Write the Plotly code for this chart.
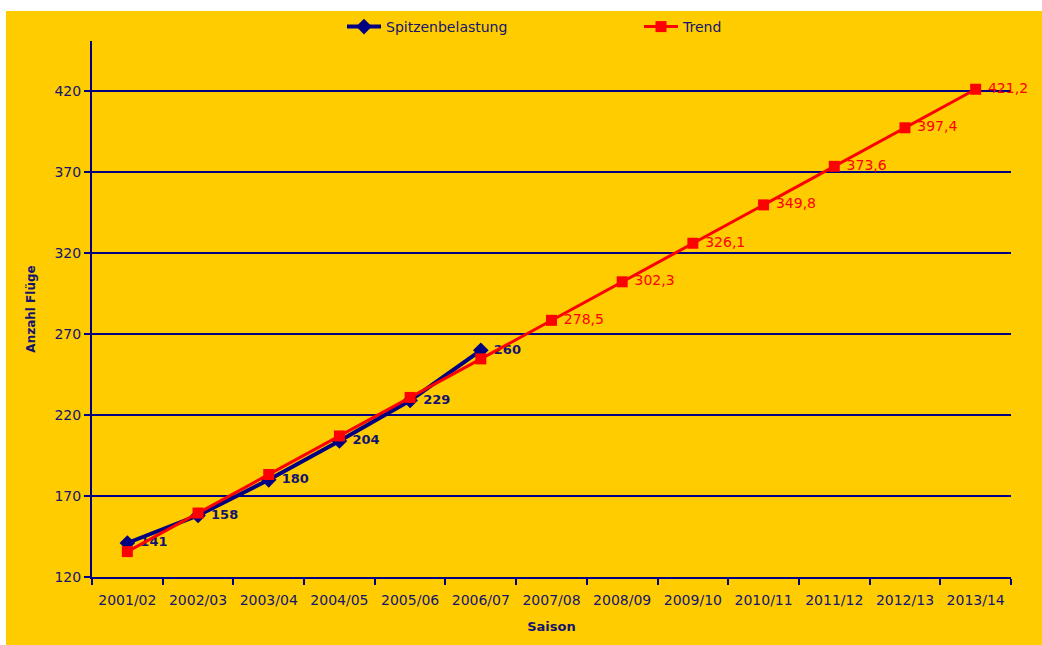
import plotly.graph_objects as go

seasons = ["2001/02", "2002/03", "2003/04", "2004/05", "2005/06", "2006/07", "2007/08",
           "2008/09", "2009/10", "2010/11", "2011/12", "2012/13", "2013/14"]
spitzen_seasons = seasons[:6]
spitzen_values = [141, 158, 180, 204, 229, 260]
trend_values = [135.7, 159.5, 183.3, 207.1, 230.9, 254.7, 278.5,
                302.3, 326.1, 349.8, 373.6, 397.4, 421.2]
trend_labels = ["", "", "", "", "", "", "278,5", "302,3", "326,1", "349,8", "373,6", "397,4", "421,2"]
y_ticks = [120, 170, 220, 270, 320, 370, 420]

YELLOW = "#FFCC00"
NAVY = "#000080"
TXT = "#14146e"
RED = "#FF0000"
FONT = "DejaVu Sans"

W, H = 1042, 645
ML, MR, MT, MB = 92, 31, 40, 68
PW, PH = W - ML - MR, H - MT - MB

fig = go.Figure()
fig.add_trace(go.Scatter(
    x=spitzen_seasons, y=spitzen_values, name="Spitzenbelastung",
    mode="lines+markers+text",
    line=dict(color=NAVY, width=4),
    marker=dict(symbol="diamond", size=12, color=NAVY),
    text=[str(v) for v in spitzen_values], texttemplate=" %{text}", textposition="middle right",
    textfont=dict(family=FONT, size=13, color=TXT, weight="bold"),
    cliponaxis=False,
))
fig.add_trace(go.Scatter(
    x=seasons, y=trend_values, name="Trend",
    mode="lines+markers+text",
    line=dict(color=RED, width=3),
    marker=dict(symbol="square", size=11, color=RED),
    text=trend_labels, texttemplate=" %{text}", textposition="middle right",
    textfont=dict(family=FONT, size=14, color=RED),
    cliponaxis=False,
))

# white page margin at top and left
fig.add_shape(type="rect", xref="paper", yref="paper", layer="below",
              x0=-ML / PW - 0.01, x1=1.1, y0=(PH + MT - 10) / PH, y1=(PH + MT) / PH + 0.01,
              fillcolor="white", line=dict(width=0))
fig.add_shape(type="rect", xref="paper", yref="paper", layer="below",
              x0=-ML / PW - 0.01, x1=(6 - ML) / PW, y0=-MB / PH - 0.01, y1=(PH + MT) / PH + 0.01,
              fillcolor="white", line=dict(width=0))

fig.update_layout(
    width=W, height=H,
    margin=dict(l=ML, r=MR, t=MT, b=MB),
    paper_bgcolor=YELLOW, plot_bgcolor=YELLOW,
    font=dict(family=FONT, size=14, color=TXT),
    showlegend=True,
    legend=dict(orientation="h", x=(342 - ML) / PW, xanchor="left",
                y=(PH + MT - 27) / PH, yanchor="middle",
                bgcolor="rgba(0,0,0,0)", font=dict(family=FONT, size=14, color=TXT),
                entrywidth=248, entrywidthmode="pixels", itemwidth=34),
    xaxis=dict(
        type="category", categoryorder="array", categoryarray=seasons,
        tickson="boundaries", ticks="outside", ticklen=6, tickcolor=NAVY, tickwidth=2,
        showline=True, linecolor=NAVY, linewidth=2, showgrid=False,
        ticklabelstandoff=9,
        tickfont=dict(family=FONT, size=14, color=TXT),
        title=dict(text="Saison", font=dict(family=FONT, size=13, color=TXT, weight="bold"), standoff=15),
        range=[-0.5, 12.5],
    ),
    yaxis=dict(
        range=[120, 451], tickvals=y_ticks, ticks="outside", ticklen=6, tickcolor=NAVY, tickwidth=2,
        showline=True, linecolor=NAVY, linewidth=2,
        showgrid=True, gridcolor=NAVY, gridwidth=1.5, zeroline=False,
        tickfont=dict(family=FONT, size=14, color=TXT),
        title=dict(text="Anzahl Flüge", font=dict(family=FONT, size=12, color=TXT, weight="bold"), standoff=16),
    ),
)

fig.write_html("out.html", config={"displayModeBar": False},
               post_script="document.body.style.margin='0';document.body.style.overflow='hidden';"
                           "document.body.style.background='#FFCC00';"
                           "document.documentElement.style.background='#FFCC00';")
